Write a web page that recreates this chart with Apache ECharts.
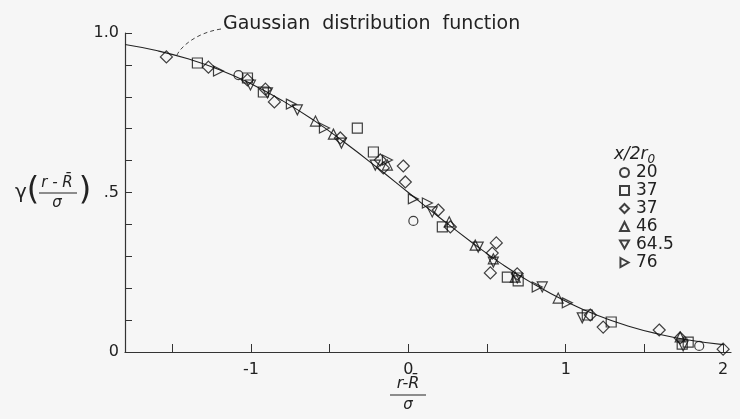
<!DOCTYPE html>
<html>
<head>
<meta charset="utf-8">
<script src="https://cdn.jsdelivr.net/npm/echarts@6/dist/echarts.min.js"></script>
<style>
html,body{margin:0;padding:0;background:#f6f6f6;}
#c{width:740px;height:419px;}
</style>
</head>
<body>
<div id="c"></div>
<script>
// Gaussian distribution function curve
const curveX = [-1.8,-1.6,-1.4,-1.2,-1.0,-0.8,-0.6,-0.4,-0.2,0,0.2,0.4,0.6,0.8,1.0,1.2,1.4,1.6,1.8,2.0];
const curveY = [0.964,0.945,0.919,0.885,0.841,0.788,0.726,0.655,0.579,0.5,0.421,0.345,0.274,0.212,0.159,0.115,0.081,0.055,0.036,0.023];

// x/2r0 = 20 (circles)
const s20 = [[-1.079,0.868],[0.032,0.411],[1.848,0.019]];
// x/2r0 = 37 (squares)
const s37sq = [[-1.34,0.906],[-1.022,0.859],[-0.921,0.815],[-0.324,0.702],[-0.222,0.627],[0.216,0.392],[0.629,0.235],[0.698,0.223],[1.137,0.116],[1.289,0.094],[1.74,0.025],[1.778,0.031]];
// x/2r0 = 37 (diamonds)
const s37di = [[-1.537,0.925],[-1.27,0.893],[-1.022,0.853],[-0.908,0.824],[-0.851,0.784],[-0.432,0.671],[-0.178,0.602],[-0.159,0.577],[-0.032,0.583],[-0.019,0.533],[0.19,0.445],[0.267,0.392],[0.559,0.342],[0.533,0.31],[0.521,0.248],[0.692,0.245],[1.156,0.116],[1.238,0.078],[1.594,0.069],[1.727,0.044],[2.0,0.009]];
// x/2r0 = 46 (up triangles)
const s46 = [[-0.59,0.724],[-0.476,0.683],[-0.133,0.586],[0.26,0.408],[0.425,0.335],[0.54,0.292],[0.679,0.235],[0.952,0.169],[1.727,0.047]];
// x/2r0 = 64.5 (down triangles)
const s645 = [[-1.003,0.837],[-0.895,0.812],[-0.705,0.759],[-0.425,0.655],[-0.21,0.586],[0.152,0.439],[0.444,0.329],[0.54,0.282],[0.692,0.232],[0.851,0.204],[1.105,0.107],[1.746,0.019]];
// x/2r0 = 76 (right triangles)
const s76 = [[-1.206,0.881],[-0.743,0.777],[-0.533,0.702],[-0.133,0.602],[0.032,0.48],[0.121,0.467],[0.819,0.204],[1.01,0.154]];

const legendKeys = ['k20','k37s','k37d','k46','k645','k76'];
const legendLabels = ['20','37','37','46','64.5','76'];
const xTicks = [-1.5,-1,-0.5,0,0.5,1,1.5,2];
const xLabels = [-1,0,1,2];
const yLabels = [0,0.5,1];

const chart = echarts.init(document.getElementById('c'));
const FONT = 'DejaVu Sans';
const INK = '#222';
const mk = (name, data, symbol, size) => ({
  type:'scatter', name, data, symbol, symbolSize:size, z:5,
  itemStyle:{color:'rgba(255,255,255,0)', borderColor:'#111', borderWidth:1.2}
});
const downTri = 'path://M0,0 L10,0 L5,9 Z';
const rightTri = 'path://M0,0 L9,5 L0,10 Z';
const txt = (x, y, text, font, align) => ({type:'text', x, y,
  style:{text, font, fill:INK, textAlign:align||'center', textVerticalAlign:'middle'}});

chart.setOption({
  backgroundColor:'#f6f6f6',
  animation:false,
  grid:{left:125, top:33, width:606, height:319},
  xAxis:{
    type:'value', min:-1.8, max:2.05,
    axisLine:{onZero:false, lineStyle:{color:'#333', width:1.2}},
    axisTick:{inside:true, length:8, customValues:xTicks, lineStyle:{color:'#333'}},
    axisLabel:{customValues:xLabels, fontFamily:FONT, fontSize:16, color:INK, margin:10,
      formatter:v=>String(Math.round(v))},
    splitLine:{show:false}
  },
  yAxis:{
    type:'value', min:0, max:1, interval:0.1,
    axisLine:{show:true, onZero:false, lineStyle:{color:'#333', width:1.2}},
    axisTick:{inside:true, length:7, lineStyle:{color:'#333'}},
    axisLabel:{customValues:yLabels, fontFamily:FONT, fontSize:16, color:INK, margin:6,
      formatter:v=> v===0?'0':(Math.abs(v-0.5)<1e-6?'.5':'1.0')},
    splitLine:{show:false}
  },
  legend:{
    data:legendKeys, orient:'vertical', left:614, top:159,
    itemWidth:9, itemHeight:9, itemGap:1,
    textStyle:{fontFamily:FONT, fontSize:17, lineHeight:16, color:INK, padding:[0,0,0,2]},
    formatter:n=>legendLabels[legendKeys.indexOf(n)]
  },
  series:[
    {type:'line', data:curveX.map((x,i)=>[x,curveY[i]]), smooth:true, symbol:'none', z:2,
      lineStyle:{color:'#222', width:1.1}},
    mk('k20', s20, 'circle', 9),
    mk('k37s', s37sq, 'rect', 10),
    mk('k37d', s37di, 'diamond', 12),
    mk('k46', s46, 'triangle', 10),
    mk('k645', s645, downTri, 10),
    mk('k76', s76, rightTri, 10)
  ],
  graphic:[
    txt(223, 24, 'Gaussian  distribution  function', '19px "DejaVu Sans"', 'left'),
    {type:'bezierCurve', shape:{x1:221,y1:29,x2:177,y2:55,cpx1:195,cpy1:33,cpx2:180,cpy2:48},
      style:{stroke:'#444', lineWidth:1, lineDash:[4,3], fill:null}},
    // y axis name
    txt(21, 193, 'γ', '20px "DejaVu Sans"'),
    txt(33, 191, '(', '32px "DejaVu Sans"'),
    txt(57, 183, 'r - R\u0304', 'italic 15px "DejaVu Sans"'),
    {type:'line', shape:{x1:39,y1:193,x2:77,y2:193}, style:{stroke:INK, lineWidth:1}},
    txt(57, 203, 'σ', 'italic 15px "DejaVu Sans"'),
    txt(85, 191, ')', '32px "DejaVu Sans"'),
    // x axis name
    txt(408, 384, 'r-R\u0304', 'italic 16px "DejaVu Sans"'),
    {type:'line', shape:{x1:390,y1:395,x2:426,y2:395}, style:{stroke:INK, lineWidth:1}},
    txt(408, 405, 'σ', 'italic 15px "DejaVu Sans"'),
    // legend title
    {type:'text', x:614, y:155, style:{
      rich:{a:{font:'italic 17px "DejaVu Sans"', fill:INK}, s:{font:'italic 12px "DejaVu Sans"', fill:INK, padding:[9,0,0,0]}},
      text:'{a|x/2r}{s|0}', textVerticalAlign:'middle'}}
  ]
});
</script>
</body>
</html>
